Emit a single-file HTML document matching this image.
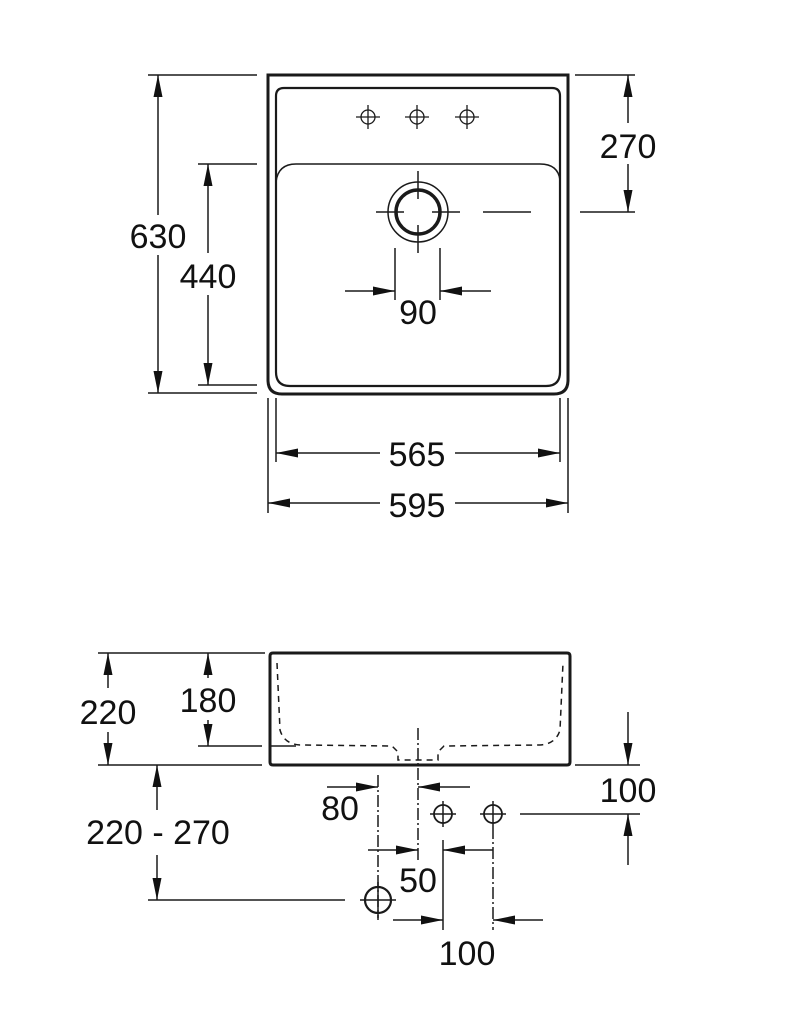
<!DOCTYPE html>
<html><head><meta charset="utf-8"><style>
html,body{margin:0;padding:0;background:#fff}
svg{display:block}
text{font-family:"Liberation Sans",Arial,sans-serif;font-size:34px;fill:#111;text-anchor:middle}
</style></head><body>
<svg width="801" height="1024" viewBox="0 0 801 1024" xmlns="http://www.w3.org/2000/svg">
<defs>
<marker id="a" viewBox="0 0 22 11" refX="22" refY="5.5" markerWidth="22" markerHeight="11" markerUnits="userSpaceOnUse" orient="auto">
<path d="M0,1 L22,5.5 L0,10 Z" fill="#111"/>
</marker>
</defs>
<g stroke="#1a1a1a" stroke-width="1.5" fill="none">
<!-- TOP VIEW -->
<path d="M268,75 H568 V380 Q568,394 554,394 H282 Q268,394 268,380 Z" stroke-width="3"/>
<path d="M284,88 H552 Q560,88 560,96 V372 Q560,386 546,386 H290 Q276,386 276,372 V96 Q276,88 284,88 Z" stroke-width="2.2"/>
<path d="M276,182 Q278,164 296,164 H540 Q558,164 560,180" stroke-width="1.5"/>
<g stroke-width="1.3">
<circle cx="368" cy="117" r="7"/><path d="M356,117h24M368,105v24"/>
<circle cx="417" cy="117" r="7"/><path d="M405,117h24M417,105v24"/>
<circle cx="467" cy="117" r="7"/><path d="M455,117h24M467,105v24"/>
</g>
<circle cx="418" cy="212" r="30" stroke-width="1.5"/>
<circle cx="418" cy="212" r="22" stroke-width="3.5"/>
<path d="M376,212h28M432,212h28M418,171v28M418,225v28"/>
<path d="M483,212h48"/>
<path d="M395,248v52M440,248v52"/>
<line x1="345" y1="291" x2="395" y2="291" marker-end="url(#a)"/>
<line x1="491" y1="291" x2="440" y2="291" marker-end="url(#a)"/>
<path d="M148,75h109M148,393h109"/>
<line x1="158" y1="215" x2="158" y2="75" marker-end="url(#a)"/>
<line x1="158" y1="255" x2="158" y2="393" marker-end="url(#a)"/>
<path d="M198,164h59M198,385h59"/>
<line x1="208" y1="253" x2="208" y2="164" marker-end="url(#a)"/>
<line x1="208" y1="295" x2="208" y2="385" marker-end="url(#a)"/>
<path d="M575,75h60M580,212h55"/>
<line x1="628" y1="123" x2="628" y2="75" marker-end="url(#a)"/>
<line x1="628" y1="164" x2="628" y2="212" marker-end="url(#a)"/>
<path d="M276,398v64M560,398v64M268,398v115M568,398v115"/>
<line x1="380" y1="453" x2="276" y2="453" marker-end="url(#a)"/>
<line x1="455" y1="453" x2="560" y2="453" marker-end="url(#a)"/>
<line x1="380" y1="503" x2="268" y2="503" marker-end="url(#a)"/>
<line x1="455" y1="503" x2="568" y2="503" marker-end="url(#a)"/>

<!-- SIDE VIEW -->
<path d="M273,653 H567 Q570,653 570,656 V762 Q570,765 567,765 H273 Q270,765 270,762 V656 Q270,653 273,653 Z" stroke-width="3"/>
<path d="M277,663 L280,730 Q284,744 300,745 L392,746 L398,752 V760 H438 V752 L444,746 L540,745 Q556,744 560,730 L563,663" stroke-dasharray="6,5" stroke-width="1.5"/>
<path d="M418,728 V860" stroke-dasharray="12,3,2,3"/>
<path d="M98,653h167M98,765h164M198,746h64M270,746h26"/>
<line x1="108" y1="688" x2="108" y2="653" marker-end="url(#a)"/>
<line x1="108" y1="732" x2="108" y2="765" marker-end="url(#a)"/>
<line x1="208" y1="678" x2="208" y2="653" marker-end="url(#a)"/>
<line x1="208" y1="720" x2="208" y2="746" marker-end="url(#a)"/>
<path d="M148,900h197"/>
<line x1="157" y1="810" x2="157" y2="765" marker-end="url(#a)"/>
<line x1="157" y1="855" x2="157" y2="900" marker-end="url(#a)"/>
<path d="M378,775 V920" stroke-dasharray="12,3,2,3"/>
<line x1="327" y1="787" x2="378" y2="787" marker-end="url(#a)"/>
<line x1="470" y1="787" x2="418" y2="787" marker-end="url(#a)"/>
<circle cx="443" cy="814" r="9" stroke-width="1.8"/><path d="M430,814h26M443,801v26"/>
<circle cx="493" cy="814" r="9" stroke-width="1.8"/><path d="M480,814h26M493,801v26"/>
<path d="M520,814h120M575,765h65"/>
<line x1="628" y1="712" x2="628" y2="765" marker-end="url(#a)"/>
<line x1="628" y1="865" x2="628" y2="814" marker-end="url(#a)"/>
<line x1="368" y1="850" x2="418" y2="850" marker-end="url(#a)"/>
<line x1="493" y1="850" x2="443" y2="850" marker-end="url(#a)"/>
<path d="M443,840V930"/>
<path d="M493,827V930" stroke-dasharray="12,3,2,3"/>
<circle cx="378" cy="900" r="13" stroke-width="2.2"/><path d="M360,900h36M378,882v36"/>
<line x1="393" y1="920" x2="443" y2="920" marker-end="url(#a)"/>
<line x1="543" y1="920" x2="493" y2="920" marker-end="url(#a)"/>
</g>
<g>
<text x="418" y="324">90</text>
<text x="158" y="248">630</text>
<text x="208" y="288">440</text>
<text x="628" y="158">270</text>
<text x="417" y="466">565</text>
<text x="417" y="517">595</text>
<text x="108" y="724">220</text>
<text x="208" y="712">180</text>
<text x="158" y="844">220 - 270</text>
<text x="340" y="820">80</text>
<text x="628" y="802">100</text>
<text x="418" y="892">50</text>
<text x="467" y="965">100</text>
</g>
</svg>
</body></html>
